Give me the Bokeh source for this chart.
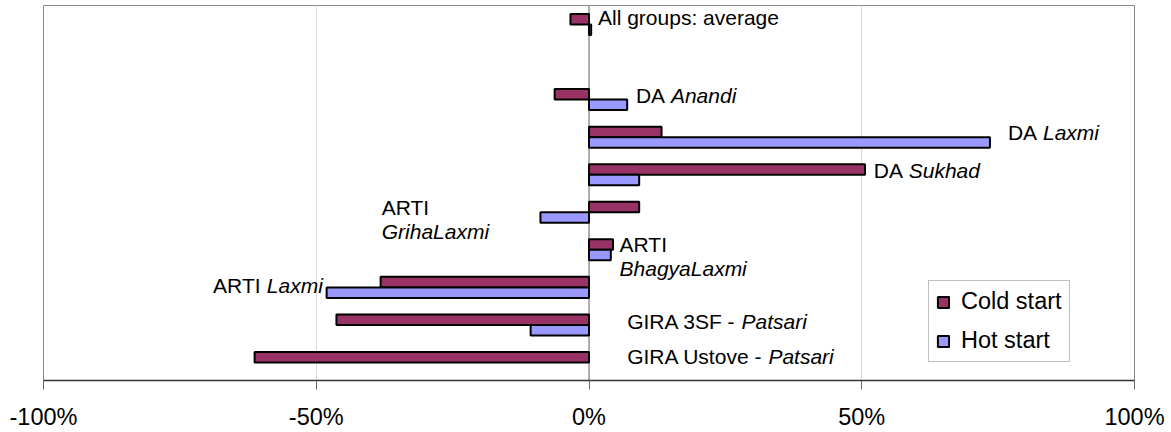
import numpy as np
from bokeh.plotting import figure
from bokeh.models import ColumnDataSource, Range1d, FixedTicker, Span, Legend, LegendItem
from bokeh.core.properties import value
from bokeh.embed import file_html
from bokeh.resources import INLINE

# ---------------- data ----------------
categories = ["All groups: average", "", "DA Anandi", "DA Laxmi", "DA Sukhad",
              "ARTI GrihaLaxmi", "ARTI BhagyaLaxmi", "ARTI Laxmi",
              "GIRA 3SF - Patsari", "GIRA Ustove - Patsari"]
cold_start = [-3.4, np.nan, -6.3, 13.3, 50.6, 9.2, 4.4, -38.2, -46.3, -61.3]
hot_start = [0.4, np.nan, 7.0, 73.5, 9.2, -8.9, 4.0, -48.1, -10.7, np.nan]

tick_values = [-100, -50, 0, 50, 100]
tick_labels = ["-100%", "-50%", "0%", "50%", "100%"]

label_plain = ["All groups: average", "DA ", "DA ", "DA ", "ARTI", "ARTI", "ARTI ",
               "GIRA 3SF - ", "GIRA Ustove - "]
label_italic = ["", "Anandi", "Laxmi", "Sukhad", "GrihaLaxmi", "BhagyaLaxmi", "Laxmi",
                "Patsari", "Patsari"]

# ---------------- layout / style ----------------
FONT = "Liberation Sans"
LABEL_PX = 21
COLD_COLOR = "#993366"
HOT_COLOR = "#9999FF"
BAR_H = 0.28
# label anchors (x in %, y in category slots), alignment and wrapping
label_anchor_x = [1.65, 8.6, 76.8, 52.2, -38.0, 5.6, -48.8, 7.0, 7.0]
label_anchor_y = [-0.19, 1.88, 2.87, 3.88, 4.86, 5.87, 6.94, 7.92, 8.85]
label_align = ["left"] * 6 + ["right"] + ["left"] * 2
label_wrap = [False, False, False, False, True, True, False, False, False]
LINE_STEP_PX = 24

ARIAL_W = {' ': 278, 'A': 667, 'D': 722, 'R': 722, 'T': 611, 'I': 278, 'G': 778, '3': 556,
           'S': 667, 'F': 611, '-': 333, 'U': 722, 's': 500, 't': 278, 'o': 556, 'v': 500,
           'e': 556, 'L': 556, 'a': 556, 'x': 500, 'm': 833, 'i': 222, 'l': 222, 'g': 556,
           'r': 333, 'u': 556, 'p': 556, ':': 278, 'n': 556, 'd': 556, 'k': 500, 'h': 556,
           'P': 667, 'B': 667, 'y': 500}


def text_w(s):
    return sum(ARIAL_W.get(c, 556) for c in s) / 1000.0 * LABEL_PX


slot = np.arange(len(categories), dtype=float)
src = ColumnDataSource(dict(
    cat=categories,
    cold=cold_start,
    hot=hot_start,
    y_cold=slot - BAR_H / 2,
    y_hot=slot + BAR_H / 2,
))

p = figure(width=1171, height=432,
           x_range=Range1d(-100, 100), y_range=Range1d(9.479, -0.505),
           output_backend="svg", toolbar_location=None, y_axis_location=None,
           min_border_left=43, min_border_right=37, min_border_top=5, min_border_bottom=52,
           background_fill_color="white", border_fill_color="white")
p.outline_line_color = "#888888"
p.outline_line_width = 1

p.xgrid.grid_line_color = "#d9d9d9"
p.xgrid.grid_line_width = 1
p.ygrid.visible = False

zero = Span(location=0, dimension="height", line_color="#999999", line_width=1.5, level="underlay")
p.add_layout(zero)

cold_r = p.hbar(y="y_cold", left=0, right="cold", height=BAR_H, source=src,
                fill_color=COLD_COLOR, line_color="black", line_width=2)
hot_r = p.hbar(y="y_hot", left=0, right="hot", height=BAR_H, source=src,
               fill_color=HOT_COLOR, line_color="black", line_width=2)

# data labels (plain + italic parts)
px_, py_, pt_, po_ = [], [], [], []
ix_, iy_, it_, io_, iyo_ = [], [], [], [], []
for i in range(len(label_plain)):
    wp = text_w(label_plain[i])
    wi = text_w(label_italic[i])
    if label_align[i] == "right":
        start = -(wp + wi)
    else:
        start = 0.0
    px_.append(label_anchor_x[i]); py_.append(label_anchor_y[i])
    pt_.append(label_plain[i]); po_.append(start)
    if label_italic[i]:
        ix_.append(label_anchor_x[i]); iy_.append(label_anchor_y[i]); it_.append(label_italic[i])
        if label_wrap[i]:
            io_.append(start); iyo_.append(LINE_STEP_PX)
        else:
            io_.append(start + wp); iyo_.append(0)

plain_src = ColumnDataSource(dict(x=px_, y=py_, text=pt_, xo=po_))
ital_src = ColumnDataSource(dict(x=ix_, y=iy_, text=it_, xo=io_, yo=iyo_))

p.text(x="x", y="y", text="text", x_offset="xo", source=plain_src,
       text_font=value(FONT), text_font_size=value(f"{LABEL_PX}px"), text_color="black",
       text_align="left", text_baseline="alphabetic")
p.text(x="x", y="y", text="text", x_offset="xo", y_offset="yo", source=ital_src,
       text_font=value(FONT), text_font_size=value(f"{LABEL_PX}px"), text_color="black",
       text_font_style="italic", text_align="left", text_baseline="alphabetic")

# axis
ax = p.xaxis[0]
ax.ticker = FixedTicker(ticks=tick_values, minor_ticks=[])
ax.major_label_overrides = {v: l for v, l in zip(tick_values, tick_labels)}
ax.major_label_text_font = FONT
ax.major_label_text_font_size = "23.5px"
ax.major_label_text_color = "black"
ax.major_tick_out = 9
ax.major_tick_in = 0
ax.major_tick_line_color = "#666666"
ax.minor_tick_line_color = None
ax.axis_line_color = "#333333"
ax.axis_line_width = 1.5
ax.major_label_standoff = 14

legend = Legend(items=[LegendItem(label="Cold start", renderers=[cold_r]),
                       LegendItem(label="Hot start", renderers=[hot_r])],
                location=(885, 18), orientation="vertical",
                border_line_color="#808080", border_line_width=1,
                background_fill_color="white", background_fill_alpha=1.0,
                label_text_font=FONT, label_text_font_size="23.5px",
                label_text_color="black",
                glyph_width=14, glyph_height=14, label_standoff=11,
                padding=7, spacing=12, label_height=26, margin=0)
p.add_layout(legend)

open("out.html", "w").write(file_html(p, INLINE))
